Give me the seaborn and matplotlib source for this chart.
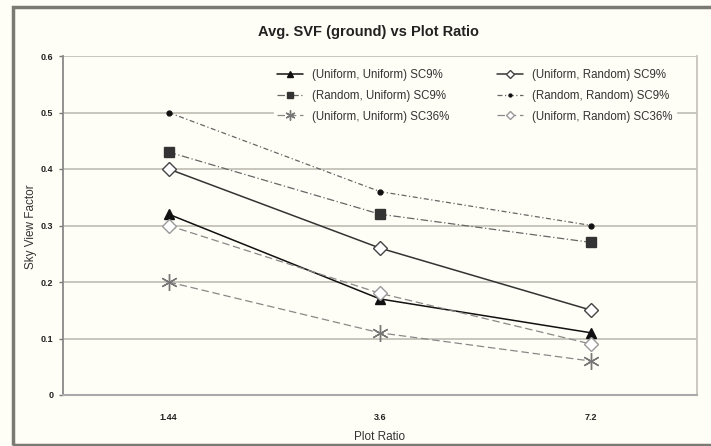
import matplotlib
matplotlib.use("Agg")
import matplotlib.pyplot as plt
import seaborn as sns
import pandas as pd
from matplotlib.patches import Rectangle

# ---- data ----
plot_ratio = ["1.44", "3.6", "7.2"]
uu_sc9 = [0.32, 0.17, 0.11]
ur_sc9 = [0.40, 0.26, 0.15]
ru_sc9 = [0.43, 0.32, 0.27]
rr_sc9 = [0.50, 0.36, 0.30]
uu_sc36 = [0.20, 0.11, 0.06]
ur_sc36 = [0.30, 0.18, 0.09]
series_names = ["(Uniform, Uniform) SC9%", "(Uniform, Random) SC9%",
                "(Random, Uniform) SC9%", "(Random, Random) SC9%",
                "(Uniform, Uniform) SC36%", "(Uniform, Random) SC36%"]
y_ticks = [0, 0.1, 0.2, 0.3, 0.4, 0.5, 0.6]
y_tick_labels = ["0", "0.1", "0.2", "0.3", "0.4", "0.5", "0.6"]

sns.set_theme(style="white")
plt.rcParams['font.family'] = ['Liberation Sans', 'DejaVu Sans']

BG = "#FFFEF6"
W, H = 711, 446
fig = plt.figure(figsize=(W / 100, H / 100), dpi=100, facecolor=BG)
ax = fig.add_axes([63 / W, 1 - 395 / H, (697 - 63) / W, (395 - 56) / H])
ax.set_facecolor(BG)

values = [uu_sc9, ur_sc9, ru_sc9, rr_sc9, uu_sc36, ur_sc36]
styles = [
    dict(color="#111111", ls="-", marker="^", ms=7, mfc="#111111", mec="#111111", lw=1.1),
    dict(color="#333333", ls="-", marker="D", ms=7.5, mfc="white", mec="#444444", lw=1.1),
    dict(color="#666666", ls=(0, (6, 2, 1, 2)), marker="s", ms=7, mfc="#333333", mec="#333333", lw=0.9),
    dict(color="#666666", ls=(0, (4, 2, 1, 2)), marker="o", ms=3.5, mfc="#111111", mec="#111111", lw=0.9),
    dict(color="#888888", ls=(0, (6, 3)), marker=(6, 2, 0), ms=12, mfc="#777777", mec="#777777", lw=0.9),
    dict(color="#888888", ls=(0, (6, 3)), marker="D", ms=7.5, mfc="white", mec="#999999", lw=0.9),
]

for name, vals, st in zip(series_names, values, styles):
    df = pd.DataFrame({"x": plot_ratio, "y": vals})
    sns.lineplot(data=df, x="x", y="y", ax=ax, color=st["color"], linestyle=st["ls"],
                 linewidth=st["lw"], marker=st["marker"], markersize=st["ms"],
                 markerfacecolor=st["mfc"], markeredgecolor=st["mec"],
                 markeredgewidth=1.0, label=name, sort=False, zorder=3)

ax.set_xlim(-0.5, 2.5)
ax.set_ylim(0, 0.6)
ax.set_yticks(y_ticks)
ax.set_yticklabels(y_tick_labels, fontsize=6.5, fontweight="bold", color="#222222")
ax.set_xticks([0, 1, 2])
ax.set_xticklabels(plot_ratio, fontsize=6.5, fontweight="bold", color="#222222")
ax.set_xticks([-0.5, 0.5, 1.5, 2.5], minor=True)
ax.tick_params(axis="x", which="major", length=0, pad=13)
ax.tick_params(axis="x", which="minor", length=3, color="#999999", width=1, direction="out")
ax.tick_params(axis="y", which="major", length=3, color="#777777", width=1, direction="out", pad=4, left=True)
ax.set_xlabel("")
ax.set_ylabel("")

for y in y_ticks[1:]:
    ax.axhline(y, color="#c4c0b8", lw=1.3, zorder=1)

ax.spines["left"].set_color("#888888"); ax.spines["left"].set_linewidth(1.3)
ax.spines["bottom"].set_color("#aaaaaa"); ax.spines["bottom"].set_linewidth(1.5)
ax.spines["right"].set_color("#c8c4bc"); ax.spines["right"].set_linewidth(1.3)
ax.spines["top"].set_visible(False)

h, l = ax.get_legend_handles_labels()
order = [0, 2, 4, 1, 3, 5]
leg = ax.legend([h[i] for i in order], [l[i] for i in order], ncol=2,
                loc="upper left", bbox_to_anchor=(268 / W, 1 - 60 / H),
                bbox_transform=fig.transFigure, frameon=True, fontsize=8.3,
                handlelength=2.2, handletextpad=0.8, columnspacing=4.2,
                labelspacing=0.75, borderpad=0.3, facecolor=BG, edgecolor=BG,
                framealpha=1, fancybox=False, markerscale=0.6)
for t in leg.get_texts():
    t.set_color("#333333")
leg.set_zorder(5)

fig.text(368 / W, 1 - 32 / H, "Avg. SVF (ground) vs Plot Ratio", ha="center", va="center",
         fontsize=10.5, fontweight="bold", color="#222222")
fig.text(31 / W, 1 - 227 / H, "Sky View Factor", rotation=90, ha="center", va="center",
         fontsize=8.5, color="#333333")
fig.text(380 / W, 1 - 437 / H, "Plot Ratio", ha="center", va="center",
         fontsize=8.5, color="#333333")

fig.patches.append(Rectangle((13 / W, 1 - 445 / H), 1.0, (445 - 7) / H,
                             transform=fig.transFigure, fill=False,
                             edgecolor="#7a7a72", lw=2.5, zorder=0))

fig.savefig("out.png", dpi=100, facecolor=BG)
